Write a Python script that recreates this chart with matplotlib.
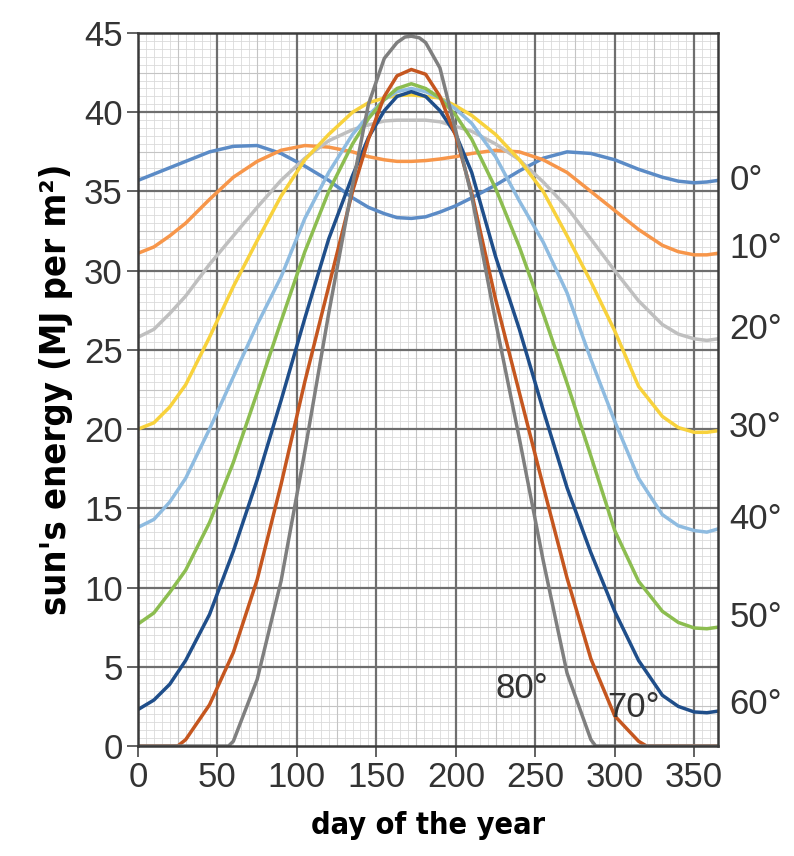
import matplotlib
matplotlib.use("Agg")
import matplotlib.pyplot as plt
from matplotlib.ticker import MultipleLocator

days = [0, 10, 20, 30, 45, 60, 75, 90, 105, 120, 135, 145, 155, 163, 172, 181,
        190, 200, 210, 225, 240, 255, 270, 285, 300, 315, 330, 340, 350, 358, 365]

lat0 = [35.7, 36.1, 36.5, 36.9, 37.5, 37.85, 37.9, 37.4, 36.6, 35.7, 34.6, 34.0, 33.6, 33.35, 33.3, 33.4,
        33.7, 34.1, 34.6, 35.4, 36.3, 37.1, 37.5, 37.4, 37.0, 36.4, 35.9, 35.65, 35.55, 35.6, 35.7]
lat10 = [31.1, 31.5, 32.2, 33.0, 34.5, 35.9, 36.9, 37.6, 37.9, 37.8, 37.5, 37.2, 37.0, 36.9, 36.9, 36.95,
         37.05, 37.2, 37.4, 37.6, 37.5, 37.0, 36.2, 35.0, 33.8, 32.6, 31.6, 31.2, 31.0, 31.0, 31.1]
lat20 = [25.8, 26.3, 27.3, 28.4, 30.4, 32.2, 34.0, 35.7, 37.1, 38.2, 38.9, 39.2, 39.45, 39.5, 39.5, 39.5,
         39.4, 39.1, 38.8, 38.0, 37.0, 35.6, 34.0, 32.0, 30.0, 28.1, 26.6, 26.0, 25.7, 25.6, 25.7]
lat30 = [20.0, 20.4, 21.4, 22.8, 25.8, 29.0, 31.9, 34.7, 37.0, 38.6, 40.0, 40.6, 40.9, 41.05, 41.1, 41.0,
         40.9, 40.4, 39.8, 38.6, 37.0, 35.0, 32.2, 29.3, 26.2, 22.7, 20.8, 20.1, 19.8, 19.8, 19.9]
lat40 = [13.8, 14.3, 15.4, 16.9, 20.0, 23.3, 26.6, 29.6, 33.3, 36.2, 38.6, 39.8, 40.8, 41.3, 41.5, 41.3,
         40.9, 40.2, 39.3, 37.2, 34.4, 31.8, 28.6, 24.4, 20.5, 16.9, 14.6, 13.9, 13.6, 13.5, 13.7]
lat50 = [7.7, 8.4, 9.7, 11.1, 14.1, 17.9, 22.3, 26.8, 31.2, 35.0, 38.0, 39.6, 40.8, 41.5, 41.8, 41.5,
         40.9, 39.8, 38.3, 35.2, 31.5, 27.3, 22.9, 18.3, 13.6, 10.4, 8.5, 7.8, 7.45, 7.4, 7.5]
lat60 = [2.3, 2.9, 3.9, 5.4, 8.3, 12.3, 16.8, 21.8, 27.0, 32.0, 36.0, 38.4, 40.1, 41.0, 41.3, 41.0,
         40.1, 38.6, 36.2, 30.9, 26.3, 21.2, 16.3, 12.2, 8.5, 5.4, 3.2, 2.5, 2.15, 2.1, 2.2]

# polar latitudes have days with no sun, so they get their own day lists
days70 = [0, 25, 30, 45, 60, 75, 90, 105, 120, 135, 145, 155, 163, 172, 181,
          190, 200, 210, 225, 240, 255, 270, 285, 300, 315, 320, 365]
lat70 = [0, 0, 0.4, 2.6, 5.9, 10.5, 16.5, 23.0, 29.0, 35.0, 38.3, 41.0, 42.3, 42.7, 42.4,
         41.0, 38.5, 34.9, 28.2, 22.3, 16.4, 10.6, 5.5, 1.9, 0.3, 0, 0]
days80 = [0, 57, 60, 75, 90, 105, 120, 135, 145, 155, 163, 168, 172, 177, 181,
          190, 200, 210, 225, 240, 255, 270, 285, 288, 365]
lat80 = [0, 0, 0.3, 4.2, 10.4, 18.6, 27.3, 35.4, 40.5, 43.4, 44.4, 44.75, 44.8, 44.7, 44.4,
         42.8, 38.8, 34.7, 26.8, 19.4, 11.7, 4.6, 0.4, 0, 0]

series = [
    (days, lat0, "#5b8bc6"),
    (days, lat10, "#f7964a"),
    (days, lat20, "#bfbfbf"),
    (days, lat30, "#f8d23c"),
    (days, lat40, "#8ebbe0"),
    (days, lat50, "#8cbd50"),
    (days, lat60, "#1f4e8a"),
    (days70, lat70, "#c5561f"),
    (days80, lat80, "#7f7f7f"),
]

right_labels = ["0°", "10°", "20°", "30°", "40°", "50°", "60°"]
right_label_y = [35.7, 31.4, 26.3, 20.1, 14.3, 8.1, 2.6]

num_font = ["Liberation Sans", "DejaVu Sans"]
bold_font = ["DejaVu Sans Condensed", "DejaVu Sans"]

fig = plt.figure(figsize=(7.94, 8.56), dpi=100)
ax = fig.add_axes([0.1738, 0.1285, 0.7305, 0.8329])

ax.set_xlim(0, 365)
ax.set_ylim(0, 45)
ax.xaxis.set_major_locator(MultipleLocator(50))
ax.yaxis.set_major_locator(MultipleLocator(5))

# graph paper: fine, medium, then major lines on top
for d in range(5, 365, 5):
    if d % 50 == 0:
        c, w, z = "#6e6e6e", 1.6, 0.3
    elif d % 25 == 0:
        c, w, z = "#c4c4c4", 0.8, 0.2
    else:
        c, w, z = "#dadada", 0.6, 0.1
    ax.axvline(d, color=c, lw=w, zorder=z)
for k in range(1, 90):
    v = k * 0.5
    if k % 10 == 0:
        c, w, z = "#6e6e6e", 1.6, 0.3
    elif k % 5 == 0:
        c, w, z = "#c4c4c4", 0.8, 0.2
    else:
        c, w, z = "#dadada", 0.6, 0.1
    ax.axhline(v, color=c, lw=w, zorder=z)

for xs, ys, c in series:
    ax.plot(xs, ys, color=c, lw=2.5, zorder=2)

for s in ax.spines.values():
    s.set_color("#3a3a3a")
    s.set_linewidth(1.8)
    s.set_zorder(3)

ax.tick_params(which="major", length=8, width=1.3, color="#555555", pad=3,
               labelsize=25, labelcolor="#333333")
for lab in ax.get_xticklabels() + ax.get_yticklabels():
    lab.set_family(num_font)

for txt, yv in zip(right_labels, right_label_y):
    ax.text(372, yv, txt, fontsize=25, color="#333333", family=num_font,
            ha="left", va="center", clip_on=False)
ax.text(241.5, 3.6, "80°", fontsize=25, color="#333333", family=num_font,
        ha="center", va="center", zorder=4)
ax.text(312, 2.4, "70°", fontsize=25, color="#333333", family=num_font,
        ha="center", va="center", zorder=4)

ax.set_xlabel("day of the year", fontsize=22, fontweight="bold",
              family=bold_font, fontstretch="condensed", labelpad=12)
ax.set_ylabel("sun's energy (MJ per m²)", fontsize=26, fontweight="bold",
              family=bold_font, fontstretch="condensed", labelpad=8)

fig.savefig("out.png", dpi=100)
